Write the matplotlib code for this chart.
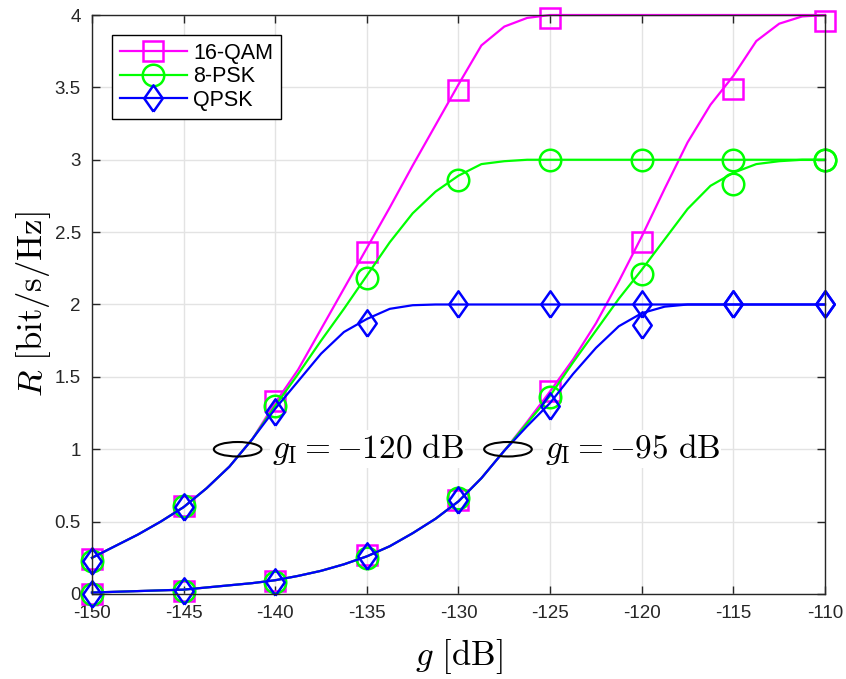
import numpy as np
import matplotlib
matplotlib.use('Agg')
import matplotlib.pyplot as plt
from matplotlib.lines import Line2D
from matplotlib.patches import Ellipse

plt.rcParams['font.family'] = ['Liberation Sans', 'DejaVu Sans']
plt.rcParams['mathtext.fontset'] = 'cm'

# theory curves, sampled every 1.25 dB
g_line = np.arange(-150, -109.9, 1.25)
# g_I = -120 dB
qam16_a = [0.25, 0.33, 0.41, 0.50, 0.60, 0.73, 0.88, 1.07, 1.32, 1.55, 1.83, 2.11, 2.39,
           2.67, 2.96, 3.24, 3.52, 3.79, 3.92, 3.98, 4.0, 4.0, 4.0, 4.0, 4.0, 4.0, 4.0,
           4.0, 4.0, 4.0, 4.0, 4.0, 4.0]
psk8_a = [0.25, 0.33, 0.41, 0.50, 0.60, 0.73, 0.88, 1.07, 1.30, 1.52, 1.75, 1.97, 2.20,
          2.43, 2.63, 2.78, 2.89, 2.97, 2.99, 3.0, 3.0, 3.0, 3.0, 3.0, 3.0, 3.0, 3.0,
          3.0, 3.0, 3.0, 3.0, 3.0, 3.0]
qpsk_a = [0.25, 0.33, 0.41, 0.50, 0.60, 0.73, 0.88, 1.07, 1.28, 1.47, 1.66, 1.81, 1.90,
          1.97, 1.995, 2.0, 2.0, 2.0, 2.0, 2.0, 2.0, 2.0, 2.0, 2.0, 2.0, 2.0, 2.0,
          2.0, 2.0, 2.0, 2.0, 2.0, 2.0]
# g_I = -95 dB
qam16_b = [0.01, 0.015, 0.02, 0.025, 0.03, 0.045, 0.06, 0.075, 0.095, 0.125, 0.16, 0.205,
           0.26, 0.33, 0.42, 0.52, 0.64, 0.80, 0.99, 1.19, 1.40, 1.62, 1.87, 2.16, 2.47,
           2.80, 3.12, 3.38, 3.58, 3.82, 3.94, 3.99, 4.0]
psk8_b = [0.01, 0.015, 0.02, 0.025, 0.03, 0.045, 0.06, 0.075, 0.095, 0.125, 0.16, 0.205,
          0.26, 0.33, 0.42, 0.52, 0.64, 0.80, 0.99, 1.18, 1.37, 1.60, 1.82, 2.04, 2.24,
          2.45, 2.66, 2.82, 2.91, 2.97, 2.99, 3.0, 3.0]
qpsk_b = [0.01, 0.015, 0.02, 0.025, 0.03, 0.045, 0.06, 0.075, 0.095, 0.125, 0.16, 0.205,
          0.26, 0.33, 0.42, 0.52, 0.64, 0.80, 0.99, 1.16, 1.32, 1.52, 1.70, 1.85, 1.94,
          1.985, 2.0, 2.0, 2.0, 2.0, 2.0, 2.0, 2.0]

# simulated points, every 5 dB
g_mk = [-150, -145, -140, -135, -130, -125, -120, -115, -110]
qam16_a_mk = [0.24, 0.61, 1.33, 2.36, 3.48, 3.98, np.nan, np.nan, np.nan]
psk8_a_mk = [0.23, 0.61, 1.30, 2.18, 2.86, 3.0, 3.0, 3.0, 3.0]
qpsk_a_mk = [0.23, 0.60, 1.26, 1.87, 2.0, 2.0, 2.0, 2.0, 2.0]
qam16_b_mk = [0.0, 0.02, 0.09, 0.27, 0.65, 1.40, 2.43, 3.49, 3.96]
psk8_b_mk = [0.0, 0.02, 0.08, 0.25, 0.66, 1.36, 2.21, 2.83, 3.0]
qpsk_b_mk = [0.0, 0.02, 0.08, 0.26, 0.65, 1.30, 1.86, 2.0, 2.0]

diamond = [(0, -1), (0.7, 0), (0, 1), (-0.7, 0), (0, -1)]
styles = [
    ('16-QAM', '#ff00ff', 's', 14.5, [qam16_a, qam16_b], [qam16_a_mk, qam16_b_mk]),
    ('8-PSK', '#00ff00', 'o', 15.5, [psk8_a, psk8_b], [psk8_a_mk, psk8_b_mk]),
    ('QPSK', '#0000ff', diamond, 19, [qpsk_a, qpsk_b], [qpsk_a_mk, qpsk_b_mk]),
]

fig = plt.figure(figsize=(8.46, 6.79), dpi=100)
ax = fig.add_axes([0.1087, 0.1252, 0.8665, 0.8527])

handles = []
for name, col, mk, ms, lines, marks in styles:
    for yl, ym in zip(lines, marks):
        ax.plot(g_line, yl, color=col, lw=1.6, clip_on=False)
        ax.plot(g_mk, ym, ls='none', marker=mk, ms=ms, mfc='none', mec=col, mew=1.8,
                clip_on=False)
    handles.append(Line2D([], [], color=col, lw=1.6, marker=mk, ms=ms, mfc='none',
                          mec=col, mew=1.8))

# annotations
for gx, txt_x, txt in [(-142.05, -140.2, r'$g_{\mathrm{I}} = -120\ \mathrm{dB}$'),
                       (-127.3, -125.3, r'$g_{\mathrm{I}} = -95\ \mathrm{dB}$')]:
    ax.add_patch(Ellipse((gx, 1.0), 2.6, 0.1, fill=False, ec='black', lw=1.5, zorder=5))
    ax.text(txt_x, 1.0, txt, fontsize=24, va='center', ha='left', zorder=4,
            bbox=dict(facecolor='white', edgecolor='none', pad=1))

ax.set_xlim(-150, -110)
ax.set_ylim(0, 4)
ax.set_xticks(g_mk)
ax.set_xticklabels([str(v) for v in g_mk])
ax.set_yticks([0, 0.5, 1, 1.5, 2, 2.5, 3, 3.5, 4])
ax.set_yticklabels(['0', '0.5', '1', '1.5', '2', '2.5', '3', '3.5', '4'])
ax.tick_params(direction='in', top=True, right=True, length=6, width=1,
               labelsize=13.5, colors='#262626', pad=8)
for s in ax.spines.values():
    s.set_color('#262626')
    s.set_linewidth(1.0)
ax.grid(True, color='#e3e3e3', lw=1.0)
ax.set_axisbelow(True)

ax.set_xlabel(r'$g\ \mathrm{[dB]}$', fontsize=25, labelpad=11)
ax.set_ylabel(r'$R\ \mathrm{[bit/s/Hz]}$', fontsize=25, labelpad=1)

leg = ax.legend(handles, ['16-QAM', '8-PSK', 'QPSK'], loc='upper left',
                bbox_to_anchor=(0.028, 0.965), fontsize=15.5, handlelength=3.1,
                numpoints=1, fancybox=False, framealpha=1, edgecolor='black',
                borderaxespad=0, labelspacing=0.12, handletextpad=0.3, borderpad=0.35)
leg.get_frame().set_linewidth(1.0)

fig.savefig('out.png', dpi=100)
